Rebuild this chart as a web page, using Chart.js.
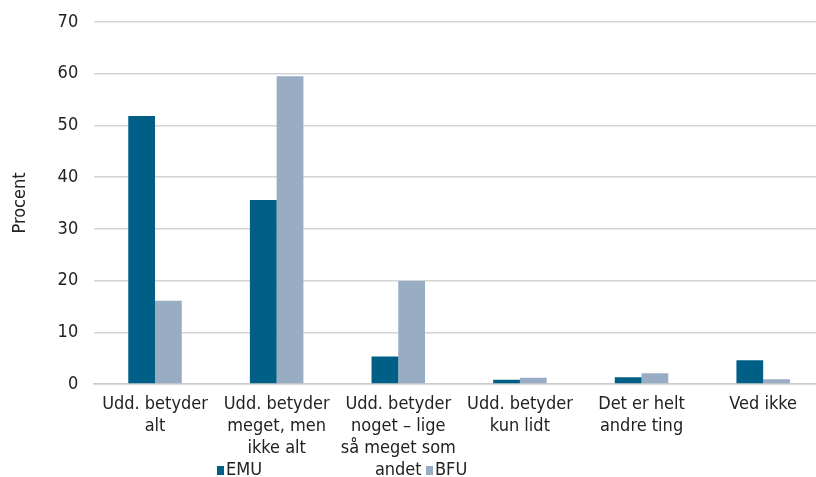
<!DOCTYPE html>
<html>

<head>
    <meta charset="UTF-8">
    <title>Udd. betydning</title>
    <style>
        body {
            margin: 0;
            overflow: hidden;
            background: #fff;
            font-family: 'Liberation Sans Narrow', 'DejaVu Sans Condensed', Roboto, sans-serif;
        }

        .chart-box {
            position: relative;
            width: 826px;
            height: 477px;
        }

        .legend-item {
            position: absolute;
            top: 458px;
            font-size: 18px;
            color: #222;
        }

        .legend-item span {
            display: inline-block;
            width: 7px;
            height: 9px;
            margin-right: 2px;
        }
    </style>
</head>

<body>
    <div class="chart-box">
        <canvas id="chart"></canvas>
        <div class="legend-item" style="left: 217px;"><span style="background:#005f87"></span>EMU</div>
        <div class="legend-item" style="left: 426px;"><span style="background:#98adc4"></span>BFU</div>
    </div>
    <script src="https://cdn.jsdelivr.net/npm/chart.js"></script>
    <script>
        const categories = [
            ["Udd. betyder", "alt"],
            ["Udd. betyder", "meget, men", "ikke alt"],
            ["Udd. betyder", "noget – lige", "så meget som", "andet"],
            ["Udd. betyder", "kun lidt"],
            ["Det er helt", "andre ting"],
            ["Ved ikke"]
        ];
        const emuValues = [51.8, 35.6, 5.3, 0.8, 1.3, 4.6];
        const bfuValues = [16.1, 59.5, 19.9, 1.2, 2.1, 0.9];
        const yTicks = [0, 10, 20, 30, 40, 50, 60, 70];

        const fontFamily = "'Liberation Sans Narrow', 'DejaVu Sans Condensed', Roboto, sans-serif";

        new Chart(document.getElementById('chart'), {
            type: 'bar',
            data: {
                labels: categories,
                datasets: [
                    {
                        label: 'EMU',
                        data: emuValues,
                        backgroundColor: '#005f87',
                        borderWidth: 0
                    },
                    {
                        label: 'BFU',
                        data: bfuValues,
                        backgroundColor: '#98adc4',
                        borderWidth: 0
                    }
                ]
            },
            options: {
                responsive: true,
                maintainAspectRatio: false,
                animation: false,
                layout: {
                    padding: { top: 22, right: 2, bottom: 0, left: 10 }
                },
                datasets: {
                    bar: {
                        categoryPercentage: 0.44,
                        barPercentage: 1
                    }
                },
                scales: {
                    x: {
                        grid: { display: false },
                        border: { color: '#cccccc', width: 1.5 },
                        afterFit: (axis) => {
                            axis.height = 93;
                        },
                        ticks: {
                            autoSkip: false,
                            maxRotation: 0,
                            color: '#222',
                            padding: 1,
                            font: { family: fontFamily, size: 18, lineHeight: 1.22 }
                        }
                    },
                    y: {
                        min: 0,
                        max: 70,
                        afterBuildTicks: (axis) => {
                            axis.ticks = yTicks.map((v) => ({ value: v }));
                        },
                        afterFit: (axis) => {
                            axis.paddingTop = 0;
                        },
                        grid: {
                            color: '#d4d4d4',
                            lineWidth: 1.5,
                            drawTicks: false
                        },
                        border: { display: false },
                        ticks: {
                            color: '#222',
                            padding: 16,
                            font: { family: fontFamily, size: 18 }
                        },
                        title: {
                            display: true,
                            text: 'Procent',
                            color: '#222',
                            padding: { top: 0, bottom: 10 },
                            font: { family: fontFamily, size: 18 }
                        }
                    }
                },
                plugins: {
                    legend: { display: false },
                    tooltip: { enabled: false }
                }
            }
        });
    </script>
</body>

</html>
